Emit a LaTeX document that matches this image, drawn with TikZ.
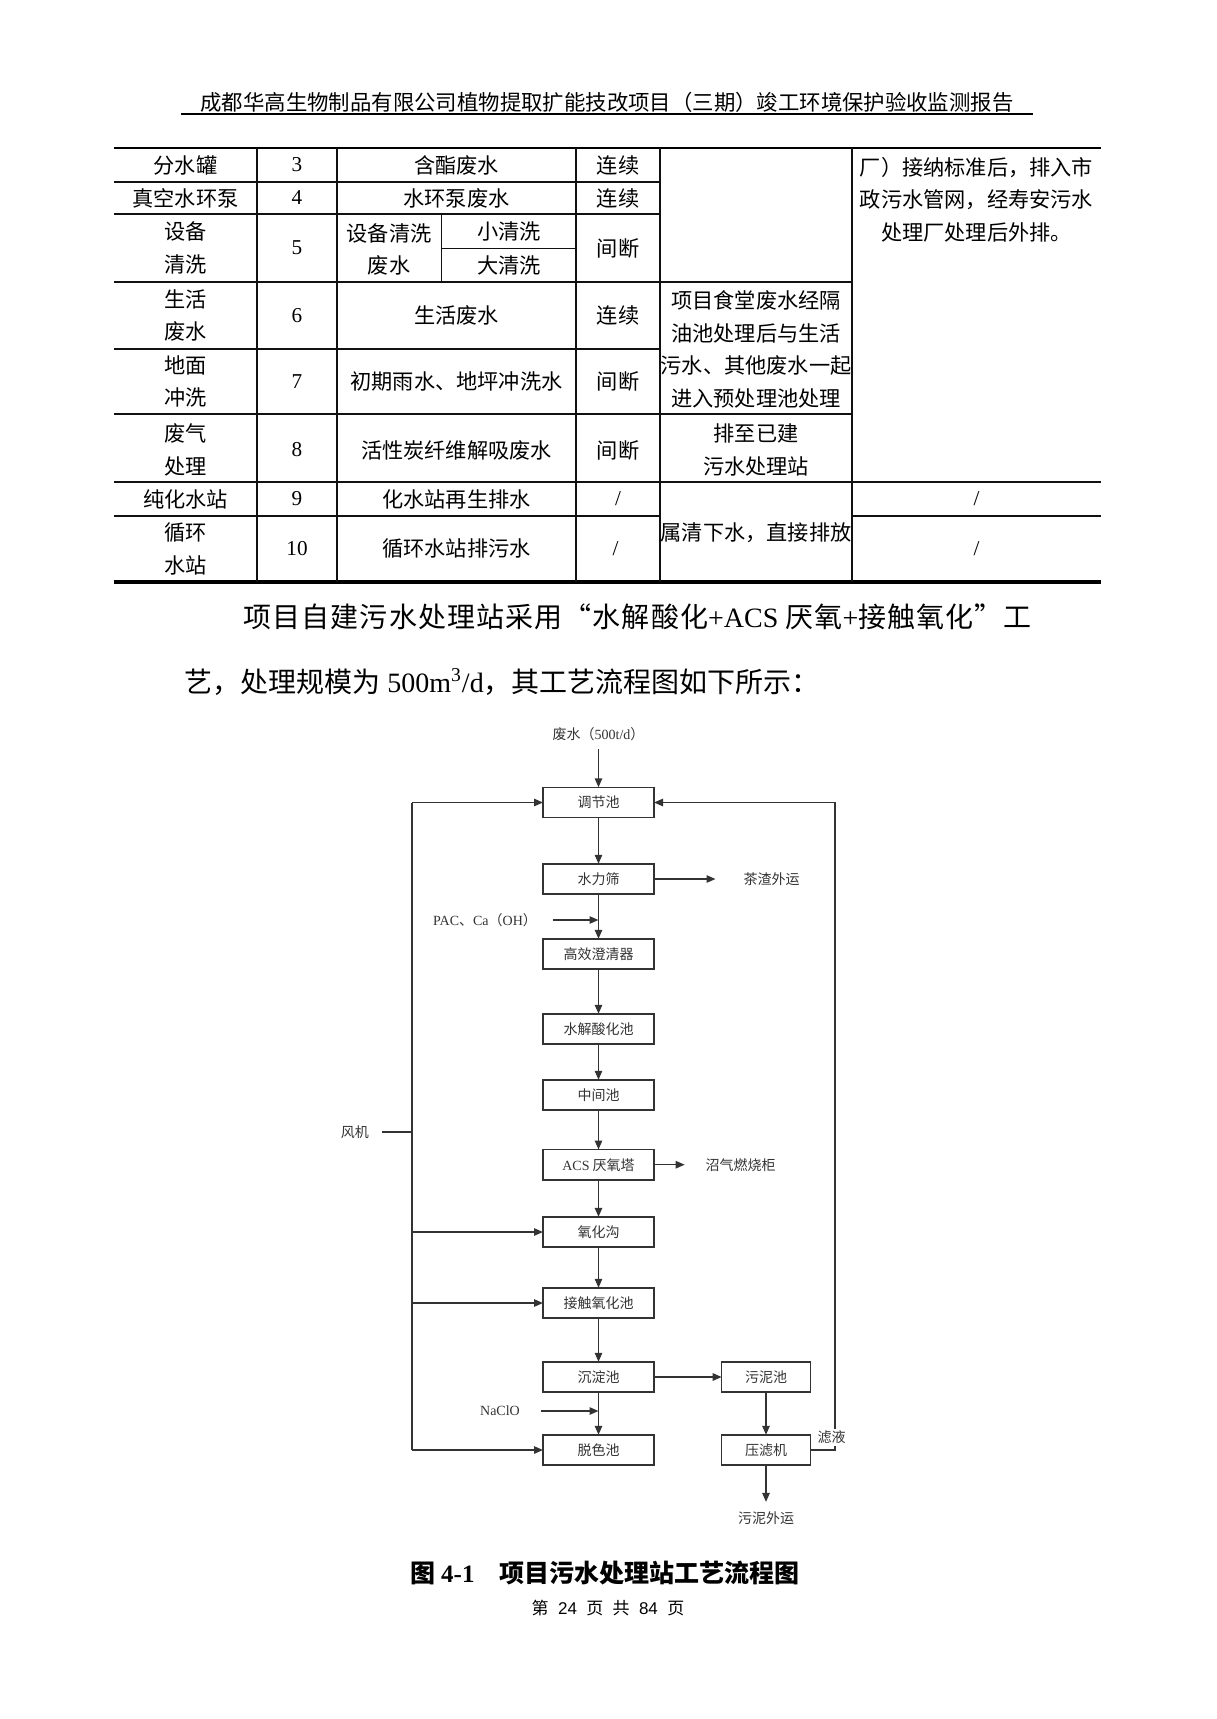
\documentclass[tikz,border=0pt]{standalone}
\usepackage{fontspec}
\setmainfont{Liberation Serif}
\newfontfamily\cjk{Noto Sans CJK SC}
\newfontfamily\digits{Liberation Sans}
\usetikzlibrary{arrows.meta,positioning}
\definecolor{ink}{HTML}{111111}
\definecolor{chart}{HTML}{333333}
\tikzset{cell/.style={font=\cjk\fontsize{10.6pt}{16.3pt}\selectfont,align=center,inner sep=0pt},
  num/.style={font=\rmfamily\fontsize{10.6pt}{16.3pt}\selectfont,inner sep=0pt},
  para/.style={font=\cjk\fontsize{14pt}{16pt}\selectfont,inner sep=0pt,anchor=west},
  tline/.style={line width=0.55pt,draw=ink},
  box/.style={draw=chart,line width=0.75pt,minimum width=55.5pt,minimum height=15.2pt,
    inner sep=0pt,outer sep=0pt,text=chart,font=\cjk\fontsize{7pt}{8pt}\selectfont},
  lbl/.style={text=chart,font=\cjk\fontsize{7pt}{8pt}\selectfont,inner sep=1pt},
  flow/.style={draw=chart,line width=0.75pt,-{Triangle[length=4.5pt,width=3.7pt]}},
  pipe/.style={draw=chart,line width=0.75pt}}

\begin{document}
\begin{tikzpicture}[x=0.5pt,y=-0.5pt]
\useasboundingbox (0,0) rectangle (1216,1719);

% Running head.
\node[cell,font=\cjk\fontsize{10.7pt}{12pt}\selectfont] (head) at (607,102)
  {成都华高生物制品有限公司植物提取扩能技改项目（三期）竣工环境保护验收监测报告};
\draw[line width=1.35pt] (181,114) -- (1033,114);

% Table rules.
\draw[line width=1.4pt] (114,148) -- (1101,148);
\draw[line width=1.9pt] (114,582) -- (1101,582);
\foreach \x in {257,337,576,660,852}
  \draw[tline] (\x,148) -- (\x,582);
\draw[tline] (441.6,214) -- (441.6,282);
\foreach \y/\xa/\xb in {182/114/660, 214/114/660, 248.3/441.6/576, 282/114/852,
  349/114/660, 414/114/852, 482/114/1101, 516/114/660, 516/852/1101}
  \draw[tline] (\xa,\y) -- (\xb,\y);

% Table rows: source, number, kind, mode.
\foreach \y/\src/\no/\kind/\mode [count=\r] in {
  165/分水罐/3/含酯废水/连续,
  198/真空水环泵/4/水环泵废水/连续,
  248/{设备\\清洗}/5/{}/间断,
  315.5/{生活\\废水}/6/生活废水/连续,
  381.5/{地面\\冲洗}/7/初期雨水、地坪冲洗水/间断,
  450/{废气\\处理}/8/活性炭纤维解吸废水/间断,
  499/纯化水站/9/化水站再生排水/{\rmfamily /},
  549/{循环\\水站}/10/循环水站排污水/{\rmfamily /}
}{
  \node[cell] (src\r) at (185.5,\y) {\src};
  \node[num] (no\r) at (297,\y) {\no};
  \node[cell] (kind\r) at (456.5,\y) {\kind};
  \node[cell] (mode\r) at (618,\y) {\mode};
}
\node[cell] (wash) at (389,249.5) {设备清洗\\废水};
\node[cell] (small) at (509,231) {小清洗};
\node[cell] (large) at (509,265.5) {大清洗};

% Merged cells on the right.
\node[cell] (canteen) at (756,349.5)
  {项目食堂废水经隔\\油池处理后与生活\\污水、其他废水一起\\进入预处理池处理};
\node[cell] (tostation) at (756,450) {排至已建\\污水处理站};
\node[cell] (clean) at (756,533) {属清下水，直接排放};
\node[cell] (sewer) at (976.5,199.5)
  {厂）接纳标准后，排入市\\政污水管网，经寿安污水\\处理厂处理后外排。};
\node[num] (na9) at (976.5,499) {/};
\node[num] (na10) at (976.5,549) {/};

% Paragraph.
\node[para] (para1) at (243,617)
  {\addfontfeature{LetterSpace=4}项目自建污水处理站采用“水解酸化{\rmfamily +ACS }厌氧{\rmfamily +}接触氧化”工};
\node[para] (para2) at (184,682)
  {艺，处理规模为{\rmfamily\ 500m\textsuperscript{3}/d}，其工艺流程图如下所示：};

% Treatment units.
\foreach \n/\y/\t in {equal/802.5/调节池, screen/879/水力筛, clarifier/954/高效澄清器,
  hydro/1029/水解酸化池, buffer/1095/中间池, acs/1164.7/{{\rmfamily ACS} 厌氧塔},
  ditch/1232/氧化沟, contact/1303/接触氧化池, settle/1377/沉淀池, decolor/1450/脱色池}
  \node[box] (\n) at (598.5,\y) {\t};
\node[box,minimum width=44.3pt] (sludge) at (766,1377) {污泥池};
\node[box,minimum width=44.3pt] (press) at (766,1450) {压滤机};

% Inputs and outputs.
\node[lbl] (waste) at (598.5,734) {废水（{\rmfamily 500t/d}）};
\node[lbl] (dregs) at (771.7,879) {茶渣外运};
\node[lbl] (pac) at (485,920) {{\rmfamily PAC}、{\rmfamily Ca}（{\rmfamily OH}）};
\node[lbl] (biogas) at (740.7,1164.7) {沼气燃烧柜};
\node[lbl] (fan) at (354.8,1132) {风机};
\node[lbl] (naclo) at (500,1411) {\rmfamily NaClO};
\node[lbl] (sludgeout) at (766,1518) {污泥外运};
\coordinate (bus) at (412,0);
\coordinate (ret) at (835,0);

% Main line.
\draw[flow,shorten <=3pt] (waste) -- (equal);
\foreach \a/\b in {equal/screen, screen/clarifier, clarifier/hydro, hydro/buffer,
  buffer/acs, acs/ditch, ditch/contact, contact/settle, settle/decolor}
  \draw[flow] (\a) -- (\b);
\draw[flow,shorten >=12.9pt] (screen.east) -- (dregs.west);
\draw[flow,shorten >=9.3pt] (acs.east) -- (biogas.west);
\draw[flow,shorten <=6.8pt] (pac.east) -- (pac.east -| screen);
\draw[flow,shorten <=9.6pt] (naclo.east) -- (naclo.east -| settle);

% Air from the blower.
\draw[pipe,shorten <=5.6pt] (fan.east) -- (fan.east -| bus);
\draw[pipe] (equal.west -| bus) -- (decolor.west -| bus);
\foreach \n in {equal,ditch,contact,decolor}
  \draw[flow] (\n.west -| bus) -- (\n.west);

% Sludge line and filtrate return.
\draw[flow] (settle) -- (sludge);
\draw[flow] (sludge) -- (press);
\draw[flow,shorten >=3.6pt] (press) -- (sludgeout);
\draw[flow] (press.east) -- (press.east -| ret) -- (equal.east -| ret) -- (equal.east);
\node[lbl,fill=white] (filtrate) at (831.7,1437) {滤液};

% Caption and folio.
\node[font=\cjk\bfseries\fontsize{12.5pt}{14pt}\selectfont,inner sep=0pt] (caption) at (605,1573)
  {图 {\rmfamily\bfseries 4-1}\hspace{1em}项目污水处理站工艺流程图};
\node[font=\cjk\fontsize{8.5pt}{10pt}\selectfont,inner sep=0pt] (folio) at (608,1608)
  {第\hspace{0.55em}{\digits 24}\hspace{0.55em}页\hspace{0.55em}共\hspace{0.55em}{\digits 84}\hspace{0.55em}页};
\end{tikzpicture}
\end{document}
